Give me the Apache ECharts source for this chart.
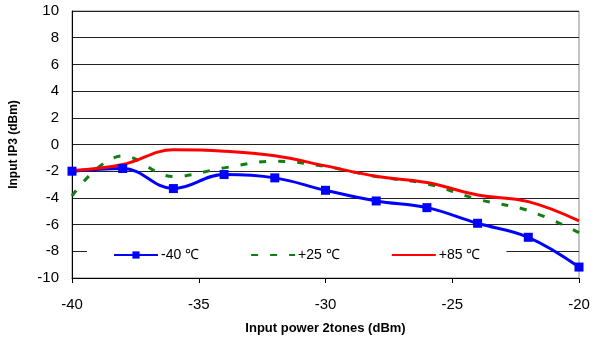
<!DOCTYPE html>
<html>
<head>
<meta charset="utf-8">
<script src="https://cdn.jsdelivr.net/npm/echarts@6/dist/echarts.min.js"></script>
<style>
  html, body { margin: 0; padding: 0; background: #fff; }
  #chart { width: 597px; height: 342px; }
</style>
</head>
<body>
<div id="chart"></div>
<script>
// input power (dBm) where the curves were read
const powerPts = [-40, -38, -36, -34, -32, -30, -28, -26, -24, -22, -20];
// input IP3 (dBm) per temperature
const ip3Minus40 = [-2.0, -1.8, -3.3, -2.25, -2.5, -3.43, -4.23, -4.73, -5.9, -6.95, -9.18];
const ip3Plus25 = [-3.85, -0.85, -2.4, -1.75, -1.25, -1.65, -2.4, -2.95, -4.1, -4.95, -6.6];
const ip3Plus85 = [-1.95, -1.5, -0.4, -0.5, -0.85, -1.6, -2.38, -2.85, -3.78, -4.28, -5.72];
const seriesNames = ['-40 ℃', '+25 ℃', '+85 ℃'];
const xTicks = { min: -40, max: -20, step: 5 };
const yTicks = { min: -10, max: 10, step: 2 };

const pairs = (ys) => powerPts.map((x, i) => [x, ys[i]]);

const chart = echarts.init(document.getElementById('chart'));
const font = 'Liberation Sans, Arial, sans-serif';

chart.setOption({
  animation: false,
  backgroundColor: '#fff',
  textStyle: { fontFamily: font },
  grid: {
    left: 72, right: 18, top: 11, bottom: 64,
    show: true, borderColor: '#888', borderWidth: 1
  },
  legend: {
    data: [
      { name: seriesNames[0] },
      { name: seriesNames[1], itemStyle: { opacity: 0 } },
      { name: seriesNames[2], itemStyle: { opacity: 0 } }
    ],
    left: 87, top: 244,
    padding: [4, 26, 4, 26],
    backgroundColor: '#fff',
    itemWidth: 44, itemHeight: 9, itemGap: 51,
    textStyle: { fontSize: 14, color: '#000', fontFamily: font, padding: [0, 0, 0, -2] }
  },
  xAxis: {
    type: 'value',
    min: xTicks.min, max: xTicks.max, interval: xTicks.step,
    name: 'Input power 2tones (dBm)',
    nameLocation: 'middle', nameGap: 44,
    nameTextStyle: { fontWeight: 'bold', fontSize: 13, color: '#000', fontFamily: font },
    axisLine: { onZero: false, lineStyle: { color: '#000', width: 1 } },
    axisTick: { show: true, inside: false, length: 5, lineStyle: { color: '#000' } },
    axisLabel: { fontSize: 15, color: '#000', margin: 19, fontFamily: font },
    splitLine: { show: false }
  },
  yAxis: {
    type: 'value',
    min: yTicks.min, max: yTicks.max, interval: yTicks.step,
    name: 'Input IP3 (dBm)',
    nameLocation: 'middle', nameGap: 52, nameRotate: 90,
    nameTextStyle: { fontWeight: 'bold', fontSize: 12, color: '#000', fontFamily: font },
    axisLine: { show: true, onZero: false, lineStyle: { color: '#000', width: 1 } },
    axisTick: { show: false },
    axisLabel: { fontSize: 15, color: '#000', margin: 13, fontFamily: font },
    splitLine: { show: true, lineStyle: { color: '#222', width: 1 } }
  },
  series: [
    {
      name: seriesNames[0], type: 'line', data: pairs(ip3Minus40),
      smooth: 0.4, symbol: 'rect', symbolSize: 9, showSymbol: true,
      color: '#0000ff',
      lineStyle: { color: '#0000ff', width: 3 },
      itemStyle: { color: '#0000ff' }
    },
    {
      name: seriesNames[1], type: 'line', data: pairs(ip3Plus25),
      smooth: 0.4, showSymbol: false, symbol: 'none',
      color: '#0f7f0f',
      lineStyle: { color: '#0f7f0f', width: 3, type: [7, 12] }
    },
    {
      name: seriesNames[2], type: 'line', data: pairs(ip3Plus85),
      smooth: 0.4, showSymbol: false, symbol: 'none',
      color: '#ff0000',
      lineStyle: { color: '#ff0000', width: 3 }
    }
  ]
});
</script>
</body>
</html>
